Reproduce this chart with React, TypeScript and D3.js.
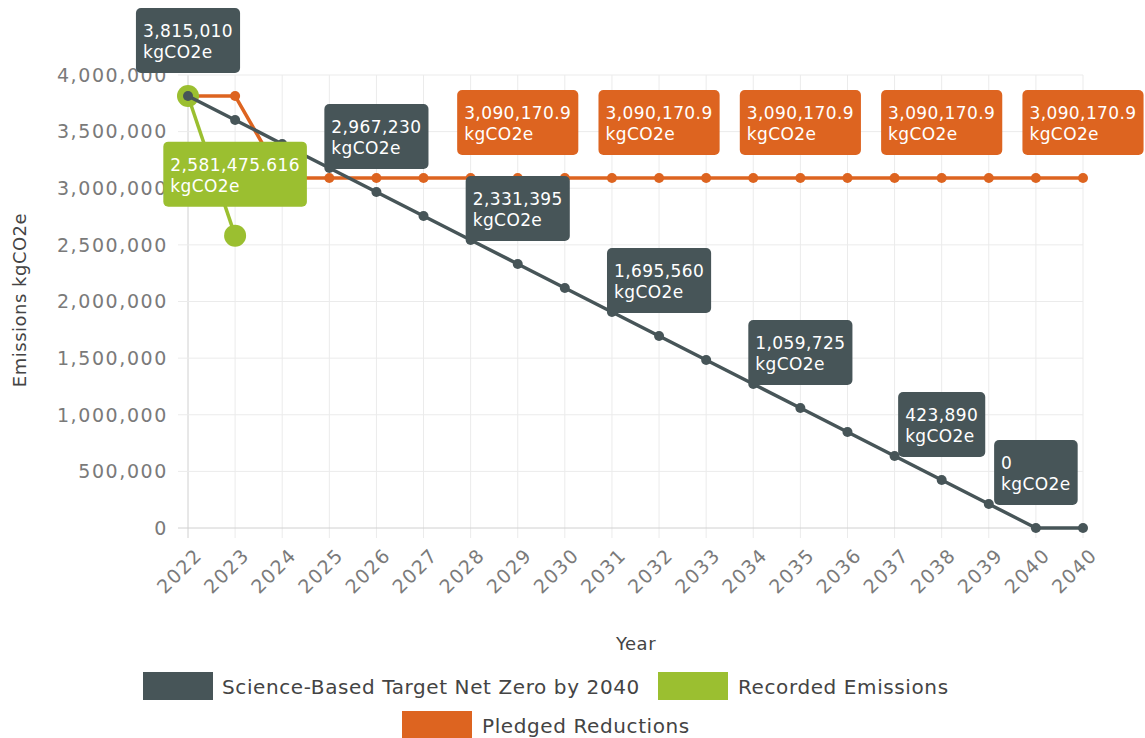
import React, { useEffect, useRef } from "react";
import * as d3 from "d3";

const years = ["2022","2023","2024","2025","2026","2027","2028","2029","2030","2031","2032","2033","2034","2035","2036","2037","2038","2039","2040","2040"];
const science = [3815010,3603065,3391120,3179175,2967230,2755285,2543340,2331395,2119450,1907505,1695560,1483615,1271670,1059725,847780,635835,423890,211945,0,0];
const recorded = [3815010,2581475.616];
const pledged = [3815010,3815010,3090170.9,3090170.9,3090170.9,3090170.9,3090170.9,3090170.9,3090170.9,3090170.9,3090170.9,3090170.9,3090170.9,3090170.9,3090170.9,3090170.9,3090170.9,3090170.9,3090170.9,3090170.9];
const yTicks = [0,500000,1000000,1500000,2000000,2500000,3000000,3500000,4000000];
const scienceLabelIdx = [0,4,7,10,13,16,18];
const pledgedLabelIdx = [7,10,13,16,19];
const recordedLabelIdx = [1];
const seriesNames = ["Science-Based Target Net Zero by 2040","Recorded Emissions","Pledged Reductions"];

const C_DARK = "#475558";
const C_GREEN = "#9bbf30";
const C_ORANGE = "#dd6420";
const FONT = "'DejaVu Sans', sans-serif";

export default function App() {
  const ref = useRef<SVGSVGElement | null>(null);
  useEffect(() => {
    const svg = d3.select(ref.current);
    svg.selectAll("*").remove();
    const x = d3.scalePoint<number>().domain(d3.range(years.length)).range([188, 1083]);
    const y = d3.scaleLinear().domain([0, 4000000]).range([528, 75]);
    const fmt = d3.format(",");

    const grid = svg.append("g");
    years.forEach((_, i) => {
      grid.append("line").attr("x1", x(i)!).attr("x2", x(i)!).attr("y1", 75).attr("y2", 538)
        .attr("stroke", i === 0 ? "#d0d0d0" : "#ebebeb").attr("stroke-width", 1);
    });
    yTicks.forEach((t) => {
      grid.append("line").attr("x1", 178).attr("x2", 1083).attr("y1", y(t)).attr("y2", y(t))
        .attr("stroke", t === 0 ? "#d0d0d0" : "#ebebeb").attr("stroke-width", 1);
      grid.append("text").attr("x", 168).attr("y", y(t)).attr("dy", "0.36em")
        .attr("text-anchor", "end").attr("font-family", FONT).attr("font-size", 19)
        .attr("letter-spacing", "1.6px").attr("fill", "#7a7a7a").text(fmt(t));
    });
    years.forEach((yr, i) => {
      const tx = x(i)! + 6, ty = 547;
      grid.append("text").attr("transform", `translate(${tx},${ty}) rotate(-45)`)
        .attr("text-anchor", "end").attr("dy", "0.7em").attr("font-family", FONT).attr("font-size", 19)
        .attr("letter-spacing", "1.5px").attr("fill", "#7a7a7a").text(yr);
    });
    svg.append("text").attr("transform", "translate(26,300) rotate(-90)").attr("text-anchor", "middle")
      .attr("font-family", FONT).attr("font-size", 18).attr("letter-spacing", "0.5px").attr("fill", "#444").text("Emissions kgCO2e");
    svg.append("text").attr("x", 636).attr("y", 650).attr("text-anchor", "middle")
      .attr("font-family", FONT).attr("font-size", 18).attr("letter-spacing", "0.5px").attr("fill", "#444").text("Year");

    const line = d3.line<number>().x((_, i) => x(i)!).y((d) => y(d));
    const drawSeries = (data: number[], color: string, r: number) => {
      svg.append("path").attr("d", line(data)!).attr("fill", "none").attr("stroke", color).attr("stroke-width", 3.5);
      data.forEach((d, i) => {
        svg.append("circle").attr("cx", x(i)!).attr("cy", y(d)).attr("r", r).attr("fill", color);
      });
    };
    drawSeries(pledged, C_ORANGE, 5);
    drawSeries(recorded, C_GREEN, 11);
    drawSeries(science, C_DARK, 5);

    const drawLabel = (data: number[], idx: number[], color: string, r: number) => {
      idx.forEach((i) => {
        const cx = x(i)!, cy = y(data[i]);
        const g = svg.append("g");
        const t1 = g.append("text").attr("font-family", FONT).attr("font-size", 17).attr("letter-spacing", "0.4px").attr("fill", "#fff").text(fmt(data[i]));
        const t2 = g.append("text").attr("font-family", FONT).attr("font-size", 17).attr("letter-spacing", "0.4px").attr("fill", "#fff").text("kgCO2e");
        const w = Math.max((t1.node() as SVGTextElement).getComputedTextLength(), (t2.node() as SVGTextElement).getComputedTextLength()) + 14;
        const h = 65;
        const bx = cx - w / 2, by = cy - r - 18 - h;
        g.insert("rect", "text").attr("x", bx).attr("y", by).attr("width", w).attr("height", h).attr("rx", 5).attr("fill", color);
        t1.attr("x", bx + 7).attr("y", by + 29);
        t2.attr("x", bx + 7).attr("y", by + 50);
      });
    };
    drawLabel(science, scienceLabelIdx, C_DARK, 5);
    drawLabel(recorded, recordedLabelIdx, C_GREEN, 11);
    drawLabel(pledged, pledgedLabelIdx, C_ORANGE, 5);

    const legend = [
      { name: seriesNames[0], color: C_DARK, bx: 143, by: 672, tx: 222, ty: 694 },
      { name: seriesNames[1], color: C_GREEN, bx: 658, by: 672, tx: 738, ty: 694 },
      { name: seriesNames[2], color: C_ORANGE, bx: 402, by: 711, tx: 482, ty: 733 },
    ];
    legend.forEach((l) => {
      svg.append("rect").attr("x", l.bx).attr("y", l.by).attr("width", 70).attr("height", 28).attr("fill", l.color);
      svg.append("text").attr("x", l.tx).attr("y", l.ty).attr("font-family", FONT).attr("font-size", 20)
        .attr("letter-spacing", "0.6px").attr("fill", "#444").text(l.name);
    });
  }, []);
  return (
    <svg ref={ref} width={1145} height={738} style={{ position: "absolute", left: 0, top: 0, background: "#fff" }} />
  );
}
